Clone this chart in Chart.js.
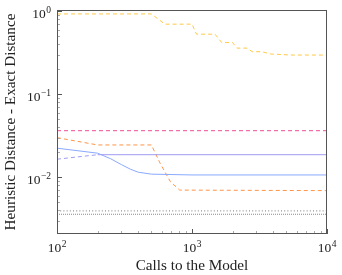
<!DOCTYPE html>
<html><head><meta charset="utf-8">
<script src="https://cdn.jsdelivr.net/npm/chart.js@4/dist/chart.umd.min.js"></script>
<style>html,body{margin:0;padding:0;background:#fff}#wrap{width:342px;height:275px;position:relative}</style>
</head><body><div id="wrap"><canvas id="c"></canvas></div>
<script>
// ---- data ----
const xTickValues = [100, 1000, 10000];
const xTickExps = ['2', '3', '4'];
const yTickValues = [1, 0.1, 0.01];
const yTickExps = ['0', '\u22121', '\u22122'];
const xTitle = 'Calls to the Model';
const yTitle = 'Heuristic Distance - Exact Distance';

const yellowX = [100, 500, 630, 1000, 1080, 1480, 1660, 2000, 2150, 2560, 2790, 3300, 3800, 5400, 10000];
const yellowY = [0.93, 0.93, 0.70, 0.70, 0.53, 0.53, 0.42, 0.42, 0.36, 0.36, 0.326, 0.326, 0.306, 0.297, 0.297];

const pinkX = [100, 10000];
const pinkY = [0.0364, 0.0364];

const orangeX = [100, 200, 500, 580, 690, 810, 10000];
const orangeY = [0.030, 0.0245, 0.0245, 0.0148, 0.0089, 0.0070, 0.0069];

const blueX = [100, 200, 250, 300, 350, 400, 500, 1000, 10000];
const blueY = [0.0224, 0.0195, 0.0167, 0.0142, 0.0125, 0.0115, 0.0109, 0.01066, 0.01066];

const purpleX = [100, 200, 10000];
const purpleY = [0.0165, 0.0187, 0.0187];

const grayTopX = [100, 10000];
const grayTopY = [0.00393, 0.00393];
const grayBotX = [100, 10000];
const grayBotY = [0.00358, 0.00358];

const xMin = 100, xMax = 10000, yMin = 0.00207, yMax = 1.037;

function pts(xs, ys) { return xs.map((x, i) => ({ x: x, y: ys[i] })); }

const SERIF = '"Liberation Serif", "DejaVu Serif", serif';

const decor = {
  id: 'decor',
  afterDraw(chart) {
    const ctx = chart.ctx, a = chart.chartArea;
    const xs = chart.scales.x, ys = chart.scales.y;
    ctx.save();
    // minor/major ticks inside
    for (let e = -3; e <= 0; e++) {
      for (let m = 1; m <= 9; m++) {
        const v = m * Math.pow(10, e);
        if (v < yMin || v > yMax) continue;
        const py = Math.round(ys.getPixelForValue(v)) + 0.5;
        ctx.strokeStyle = m === 1 ? '#555' : '#aaa';
        ctx.lineWidth = 1;
        ctx.beginPath();
        ctx.moveTo(a.left, py);
        ctx.lineTo(a.left + (m === 1 ? 5 : 3), py);
        ctx.stroke();
      }
    }
    for (let e = 2; e <= 4; e++) {
      for (let m = 1; m <= 9; m++) {
        const v = m * Math.pow(10, e);
        if (v < xMin || v > xMax) continue;
        const px = Math.round(xs.getPixelForValue(v)) + 0.5;
        ctx.strokeStyle = m === 1 ? '#555' : '#aaa';
        ctx.beginPath();
        ctx.moveTo(px, a.bottom);
        ctx.lineTo(px, a.bottom - (m === 1 ? 5 : 3));
        ctx.stroke();
      }
    }
    // frame
    ctx.strokeStyle = '#555';
    ctx.lineWidth = 1;
    ctx.strokeRect(a.left + 0.5, a.top + 0.5, a.right - a.left - 1, a.bottom - a.top - 1);

    // tick labels
    ctx.fillStyle = '#222';
    ctx.textBaseline = 'alphabetic';
    const big = '13.5px ' + SERIF, small = '9.5px ' + SERIF;
    yTickValues.forEach((v, i) => {
      const py = ys.getPixelForValue(v);
      ctx.font = small;
      const we = ctx.measureText(yTickExps[i]).width;
      const right = a.left - 6;
      ctx.textAlign = 'right';
      ctx.fillText(yTickExps[i], right, py + 1.5);
      ctx.font = big;
      ctx.fillText('10', right - we - 0.5, py + 6.5);
    });
    xTickValues.forEach((v, i) => {
      const px = xs.getPixelForValue(v);
      ctx.font = big;
      const wb = ctx.measureText('10').width;
      ctx.font = small;
      const we = ctx.measureText(xTickExps[i]).width;
      const left = px - (wb + we + 0.5) / 2;
      ctx.textAlign = 'left';
      ctx.font = big;
      ctx.fillText('10', left, a.bottom + 18);
      ctx.font = small;
      ctx.fillText(xTickExps[i], left + wb + 0.5, a.bottom + 12.5);
    });
    // axis titles
    ctx.font = '15.2px ' + SERIF;
    ctx.textAlign = 'center';
    ctx.fillText(xTitle, (a.left + a.right) / 2, a.bottom + 36);
    ctx.save();
    ctx.translate(15, (a.top + a.bottom) / 2);
    ctx.rotate(-Math.PI / 2);
    ctx.fillText(yTitle, 0, 0);
    ctx.restore();
    ctx.restore();
  }
};

const base = { pointRadius: 0, borderWidth: 1, tension: 0, fill: false };

new Chart(document.getElementById('c'), {
  type: 'line',
  data: {
    datasets: [
      Object.assign({ data: pts(grayBotX, grayBotY), borderColor: '#8a8a8a', borderDash: [1, 1] }, base),
      Object.assign({ data: pts(grayTopX, grayTopY), borderColor: '#777', borderDash: [1, 2.2] }, base),
      Object.assign({ data: pts(purpleX, purpleY), borderColor: '#9f9cf2', borderDash: [],
        segment: { borderDash: c => c.p0.parsed.x < 199 ? [4, 3] : [] } }, base),
      Object.assign({ data: pts(blueX, blueY), borderColor: '#8aa9ff', borderDash: [] }, base),
      Object.assign({ data: pts(orangeX, orangeY), borderColor: '#ff9448', borderDash: [4, 3] }, base),
      Object.assign({ data: pts(pinkX, pinkY), borderColor: '#ee4d9a', borderDash: [4, 3] }, base),
      Object.assign({ data: pts(yellowX, yellowY), borderColor: '#ffc847', borderDash: [4, 3] }, base)
    ]
  },
  options: {
    responsive: true,
    maintainAspectRatio: false,
    animation: false,
    events: [],
    layout: { padding: { left: 57, top: 10, right: 15, bottom: 41 } },
    plugins: { legend: { display: false }, tooltip: { enabled: false } },
    scales: {
      x: {
        type: 'logarithmic', min: xMin, max: xMax,
        ticks: { display: false }, grid: { display: false, drawTicks: false }, border: { display: false },
        afterFit: s => { s.height = 0; }
      },
      y: {
        type: 'logarithmic', min: yMin, max: yMax,
        ticks: { display: false }, grid: { display: false, drawTicks: false }, border: { display: false },
        afterFit: s => { s.width = 0; }
      }
    }
  },
  plugins: [decor]
});
</script>
</body></html>
